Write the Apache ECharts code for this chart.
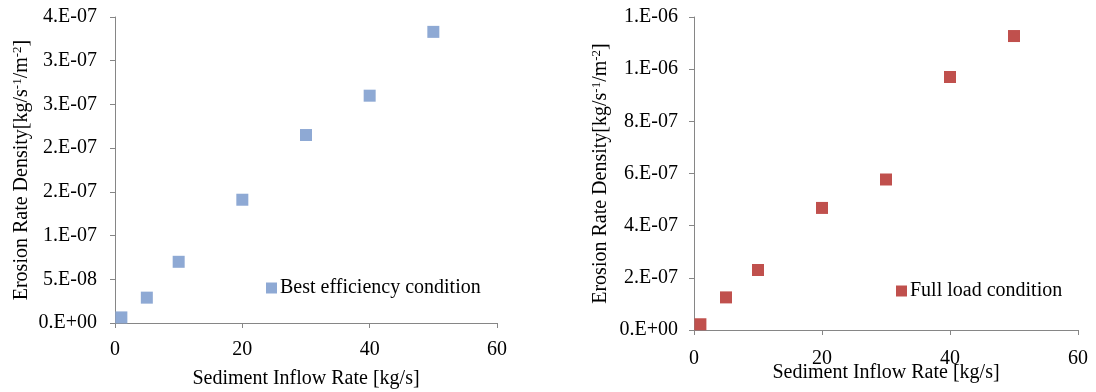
<!DOCTYPE html>
<html>
<head>
<meta charset="utf-8">
<script src="https://cdn.jsdelivr.net/npm/echarts@6/dist/echarts.min.js"></script>
<style>
  html, body { margin: 0; padding: 0; background: #fff; }
  #chart { width: 1096px; height: 392px; }
</style>
</head>
<body>
<div id="chart"></div>
<script>
// Sediment inflow rate [kg/s]
const inflowRates = [1, 5, 10, 20, 30, 40, 50];
// Erosion rate density, best efficiency condition
const bestEfficiency = [6.4e-9, 2.9e-8, 7.0e-8, 1.41e-7, 2.15e-7, 2.6e-7, 3.33e-7];
// Erosion rate density, full load condition
const fullLoad = [2.2e-8, 1.25e-7, 2.3e-7, 4.68e-7, 5.77e-7, 9.7e-7, 1.127e-6];
// Excel style tick labels
const leftTickLabels = ["0.E+00", "5.E-08", "1.E-07", "2.E-07", "2.E-07", "3.E-07", "3.E-07", "4.E-07"];
const rightTickLabels = ["0.E+00", "2.E-07", "4.E-07", "6.E-07", "8.E-07", "1.E-06", "1.E-06"];

const chart = echarts.init(document.getElementById("chart"));
const font = "'Liberation Serif', 'Times New Roman', serif";
const axisColor = "#868686";

const yName = "{t|Erosion Rate Density[kg/s}{s|-1}{t|/m}{s|-2}{t|]}";
const yNameRich = {
  t: { fontSize: 20, fontFamily: font, color: "#000", lineHeight: 22 },
  s: { fontSize: 13, fontFamily: font, color: "#000", verticalAlign: "top", lineHeight: 22, padding: [0, 0, 8, 0] },
};

function xAxis(gridIndex, labelMargin, nameGap) {
  return {
    gridIndex: gridIndex,
    type: "value",
    min: 0,
    max: 60,
    interval: 20,
    name: "Sediment Inflow Rate [kg/s]",
    nameLocation: "middle",
    nameGap: nameGap,
    nameMoveOverlap: false,
    nameTextStyle: { fontSize: 20, fontFamily: font, color: "#000" },
    axisLine: { show: true, lineStyle: { color: axisColor, width: 1 } },
    axisTick: { show: true, length: 5, lineStyle: { color: axisColor } },
    axisLabel: { fontSize: 20, fontFamily: font, color: "#000", margin: labelMargin },
    splitLine: { show: false },
  };
}

function yAxis(gridIndex, max, interval, labels, labelMargin, nameGap) {
  return {
    gridIndex: gridIndex,
    type: "value",
    min: 0,
    max: max,
    interval: interval,
    name: yName,
    nameLocation: "middle",
    nameGap: nameGap,
    nameMoveOverlap: false,
    nameRotate: 90,
    nameTextStyle: { rich: yNameRich },
    axisLine: { show: true, lineStyle: { color: axisColor, width: 1 } },
    axisTick: { show: true, length: 5, lineStyle: { color: axisColor } },
    axisLabel: {
      fontSize: 20,
      fontFamily: font,
      color: "#000",
      margin: labelMargin,
      formatter: (v) => labels[Math.round(v / interval)],
    },
    splitLine: { show: false },
  };
}

const option = {
  animation: false,
  backgroundColor: "#fff",
  grid: [
    { left: 115, top: 17, width: 382, height: 306, containLabel: false, outerBoundsMode: "none" },
    { left: 694, top: 17, width: 384, height: 313, containLabel: false, outerBoundsMode: "none" },
  ],
  legend: [
    {
      data: ["Best efficiency condition"],
      left: 261,
      top: 273,
      icon: "rect",
      itemWidth: 11,
      itemHeight: 11,
      itemGap: 5,
      textStyle: { fontSize: 20, fontFamily: font, color: "#000", padding: [0, 0, 0, -2] },
    },
    {
      data: ["Full load condition"],
      left: 891,
      top: 276,
      icon: "rect",
      itemWidth: 11,
      itemHeight: 11,
      itemGap: 5,
      textStyle: { fontSize: 20, fontFamily: font, color: "#000", padding: [0, 0, 0, -2] },
    },
  ],
  xAxis: [xAxis(0, 17, 46), xAxis(1, 19, 33)],
  yAxis: [
    yAxis(0, 3.5e-7, 5e-8, leftTickLabels, 18, 82),
    yAxis(1, 1.2e-6, 2e-7, rightTickLabels, 16, 82),
  ],
  series: [
    {
      name: "Best efficiency condition",
      type: "scatter",
      xAxisIndex: 0,
      yAxisIndex: 0,
      symbol: "rect",
      symbolSize: 12,
      itemStyle: { color: "#8EA9D4", opacity: 1 },
      data: inflowRates.map((x, i) => [x, bestEfficiency[i]]),
    },
    {
      name: "Full load condition",
      type: "scatter",
      xAxisIndex: 1,
      yAxisIndex: 1,
      symbol: "rect",
      symbolSize: 12,
      itemStyle: { color: "#C0504D", opacity: 1 },
      data: inflowRates.map((x, i) => [x, fullLoad[i]]),
    },
  ],
};
chart.setOption(option);
window.addEventListener("resize", () => chart.resize());
</script>
</body>
</html>
